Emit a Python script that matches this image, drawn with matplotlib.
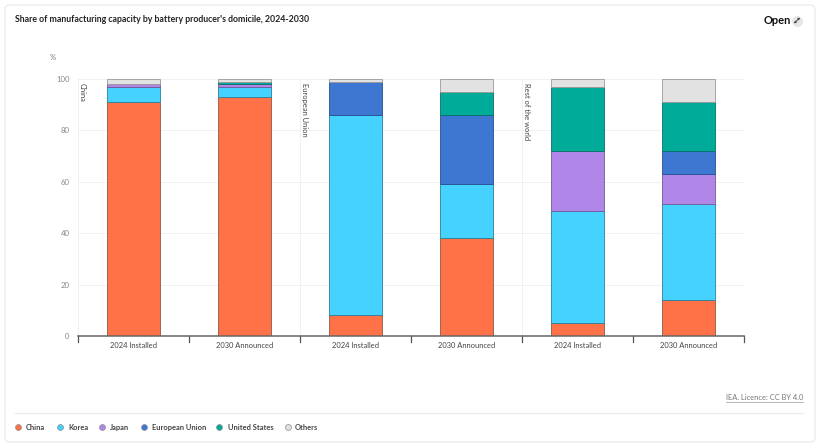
import matplotlib
matplotlib.use("Agg")
import matplotlib.pyplot as plt
from matplotlib.patches import FancyBboxPatch
import numpy as np

plt.rcParams['font.family'] = ['Lato', 'DejaVu Sans']

title = "Share of manufacturing capacity by battery producer's domicile, 2024-2030"
categories = ["2024 Installed", "2030 Announced", "2024 Installed", "2030 Announced", "2024 Installed", "2030 Announced"]
groups = ["China", "European Union", "Rest of the world"]
china = [91, 93, 8, 38, 5, 14]
korea = [6, 4, 78, 21, 43.5, 37.5]
japan = [1, 1, 0, 0, 23.5, 11.5]
eu = [0, 0, 13, 27, 0, 9]
us = [0, 1, 0, 9, 25, 19]
others = [2, 1, 1, 5, 3, 9]
names = ["China", "Korea", "Japan", "European Union", "United States", "Others"]
series = [china, korea, japan, eu, us, others]
colors = ["#FF7247", "#45D2FF", "#B087E8", "#3E77D2", "#00AB9A", "#E2E2E2"]
edges = ["#8a5a48", "#2f7f9a", "#6f5a96", "#27508f", "#0a6f66", "#9a9a9a"]
yticks = [0, 20, 40, 60, 80, 100]

W, H = 820, 447
fig = plt.figure(figsize=(W/100, H/100), dpi=100, facecolor="white")
bg = fig.add_axes([0, 0, 1, 1]); bg.set_xlim(0, W); bg.set_ylim(H, 0); bg.axis("off")
bg.add_patch(FancyBboxPatch((5, 5), 810, 437, boxstyle="round,pad=0,rounding_size=5",
                            fc="white", ec="#ececec", lw=1))
bg.plot([15, 803], [413, 413], color="#ececec", lw=0.8)
bg.text(15, 20, title, fontsize=6.3, color="#222222", va="center", ha="left", fontweight="bold")
bg.text(764, 20.5, "Open", fontsize=8, color="#111111", va="center", ha="left", fontweight="bold")
bg.scatter([797], [20.5], s=62, color="#e6e6e6", lw=0)
# expand icon: no installed family has this glyph, so it is drawn as a small shape
bg.annotate("", xy=(800, 17.5), xytext=(794, 23.5),
            arrowprops=dict(arrowstyle="<|-|>", color="#444444", lw=0.6, mutation_scale=3, shrinkA=0, shrinkB=0))
bg.text(53, 57.5, "%", fontsize=5.6, color="#777777", va="center", ha="center")
bg.text(803, 398, "IEA. Licence: CC BY 4.0", fontsize=5.4, color="#777777", va="center", ha="right")
bg.plot([726, 803], [402, 402], color="#999999", lw=0.5)

ax = fig.add_axes([78/W, 1-336/H, 666/W, 257/H], facecolor="none")
x = np.arange(len(categories))
bottom = np.zeros(len(categories))
for vals, c, ec in zip(series, colors, edges):
    v = np.array(vals, dtype=float)
    mask = v > 0
    ax.bar(x[mask], v[mask], bottom=bottom[mask], width=0.485, color=c, edgecolor=ec, linewidth=0.6, zorder=3)
    bottom += v
ax.set_xlim(-0.5, 5.5); ax.set_ylim(0, 100)
ax.set_yticks(yticks)
ax.set_yticklabels([str(t) for t in yticks], fontsize=5.6, color="#888888")
ax.tick_params(axis="y", length=0, pad=6)
ax.set_xticks(x); ax.set_xticklabels(categories, fontsize=5.4, color="#444444")
ax.tick_params(axis="x", length=0, pad=4.5)
for b in np.arange(-0.5, 6, 1):
    ax.plot([b, b], [0, -2.3], color="#555555", lw=0.9, clip_on=False, zorder=4)
ax.grid(axis="y", color="#f1f1f1", lw=0.7, zorder=0)
for b in [-0.5, 1.5, 3.5]:
    ax.axvline(b, color="#f1f1f1", lw=0.7, zorder=0)
for s in ["top", "right", "left"]:
    ax.spines[s].set_visible(False)
ax.spines["bottom"].set_color("#666666"); ax.spines["bottom"].set_linewidth(1.1)
ax.spines["bottom"].set_zorder(5)
for b, g in zip([-0.5, 1.5, 3.5], groups):
    ax.annotate(g, (b, 100), xytext=(3.3, -2.8), textcoords="offset points", rotation=270,
                fontsize=5.4, color="#444444", va="top", ha="center", zorder=6)

lx = [18, 60, 102, 144, 219, 288]
tx = [26, 68, 110, 152, 228, 295]
for n, c, lxi, txi in zip(names, colors, lx, tx):
    bg.scatter([lxi], [427], s=18, color=c, edgecolor="#8b8b8b", lw=0.5)
    bg.text(txi, 427, n, fontsize=5.4, color="#444444", va="center_baseline", ha="left", fontweight="bold")

fig.savefig("out.png", dpi=100, facecolor="white")
